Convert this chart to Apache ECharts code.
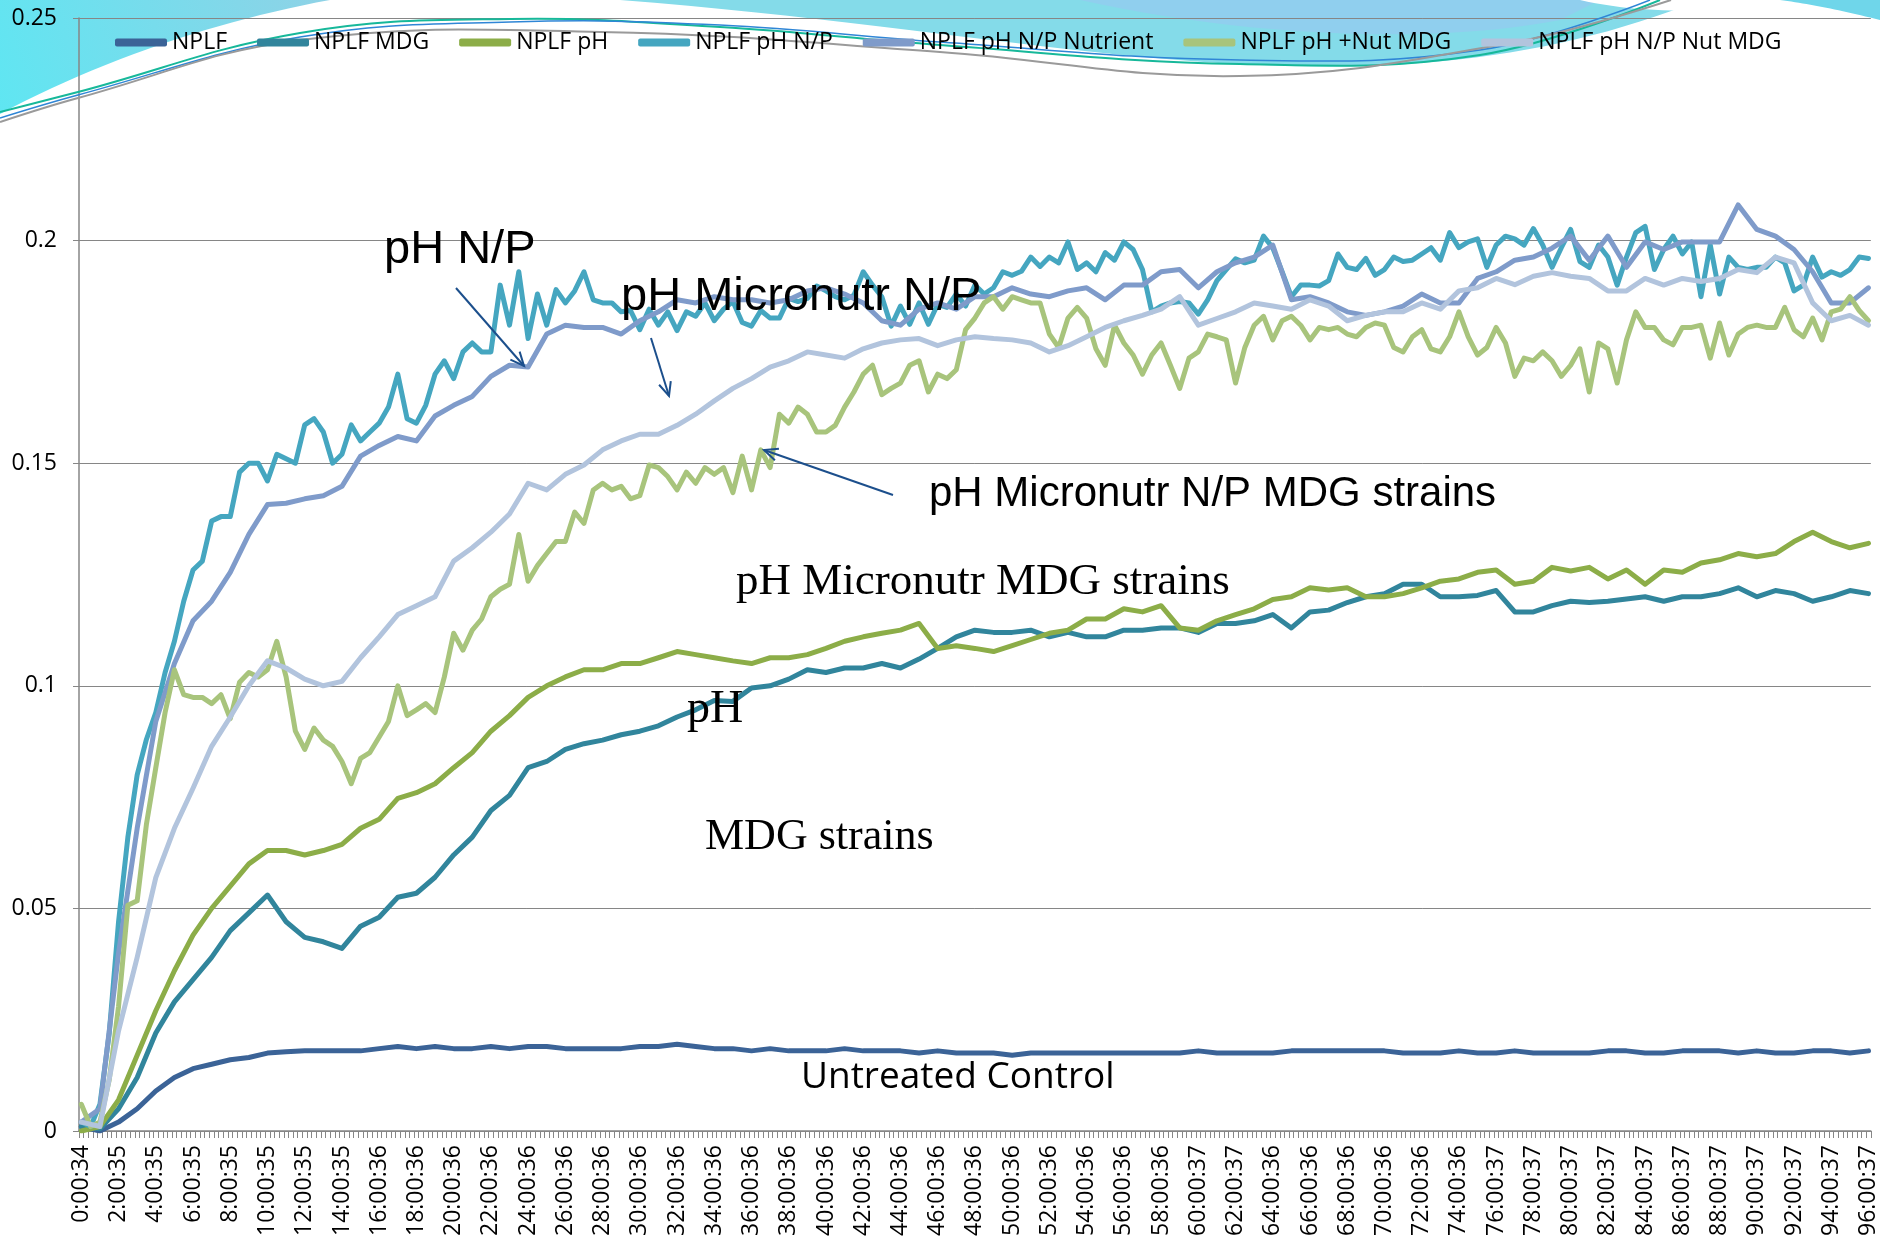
<!DOCTYPE html>
<html>
<head>
<meta charset="utf-8">
<title>NPLF growth curves</title>
<script src="https://cdn.jsdelivr.net/npm/echarts@6/dist/echarts.min.js"></script>
<style>
  html, body { margin: 0; padding: 0; background: #fff; }
  #chart { width: 1880px; height: 1253px; }
</style>
</head>
<body>
<div id="chart"></div>
<script>
// labelled ticks, one every 2 hours
const tickLabels = [
  '0:00:34', '2:00:35', '4:00:35', '6:00:35', '8:00:35', '10:00:35', '12:00:35', '14:00:35',
  '16:00:36', '18:00:36', '20:00:36', '22:00:36', '24:00:36', '26:00:36', '28:00:36', '30:00:36',
  '32:00:36', '34:00:36', '36:00:36', '38:00:36', '40:00:36', '42:00:36', '44:00:36', '46:00:36',
  '48:00:36', '50:00:36', '52:00:36', '54:00:36', '56:00:36', '58:00:36', '60:00:37', '62:00:37',
  '64:00:36', '66:00:36', '68:00:36', '70:00:36', '72:00:36', '74:00:36', '76:00:37', '78:00:37',
  '80:00:37', '82:00:37', '84:00:37', '86:00:37', '88:00:37', '90:00:37', '92:00:37', '94:00:37',
  '96:00:37'
];
const readsPerHour = 4; // plate read every 15 min

// hourly readings, hour 0 .. 96
const nplf = [
  0.001, 0.000, 0.002, 0.005, 0.009, 0.012, 0.014, 0.015, 0.016, 0.0165, 0.0175, 0.0178, 0.018, 0.018, 0.018, 0.018, 0.0185,
  0.019, 0.0185, 0.019, 0.0185, 0.0185, 0.019, 0.0185, 0.019, 0.019, 0.0185, 0.0185, 0.0185, 0.0185, 0.019, 0.019, 0.0195,
  0.019, 0.0185, 0.0185, 0.018, 0.0185, 0.018, 0.018, 0.018, 0.0185, 0.018, 0.018, 0.018, 0.0175, 0.018, 0.0175, 0.0175,
  0.0175, 0.017, 0.0175, 0.0175, 0.0175, 0.0175, 0.0175, 0.0175, 0.0175, 0.0175, 0.0175, 0.018, 0.0175, 0.0175, 0.0175, 0.0175,
  0.018, 0.018, 0.018, 0.018, 0.018, 0.018, 0.0175, 0.0175, 0.0175, 0.018, 0.0175, 0.0175, 0.018, 0.0175, 0.0175, 0.0175,
  0.0175, 0.018, 0.018, 0.0175, 0.0175, 0.018, 0.018, 0.018, 0.0175, 0.018, 0.0175, 0.0175, 0.018, 0.018, 0.0175, 0.018
];
const nplfMdg = [
  0.001, 0.0005, 0.005, 0.012, 0.022, 0.029, 0.034, 0.039, 0.045, 0.049, 0.053, 0.047, 0.0435, 0.0425, 0.041, 0.046, 0.048,
  0.0525, 0.0534, 0.057, 0.062, 0.066, 0.072, 0.0754, 0.0816, 0.083, 0.0857, 0.087, 0.0878, 0.089, 0.0898, 0.091, 0.093,
  0.0946, 0.0967, 0.0965, 0.0995, 0.100, 0.1015, 0.1036, 0.103, 0.104, 0.104, 0.105, 0.104, 0.106, 0.1084, 0.111, 0.1125,
  0.112, 0.112, 0.1125, 0.111, 0.112, 0.111, 0.111, 0.1125, 0.1125, 0.113, 0.113, 0.112, 0.114, 0.114, 0.1146, 0.116,
  0.113, 0.1166, 0.117, 0.1187, 0.120, 0.1207, 0.1228, 0.1228, 0.120, 0.120, 0.1203, 0.1214, 0.1166, 0.1166, 0.118, 0.119,
  0.1187, 0.119, 0.1195, 0.120, 0.119, 0.120, 0.120, 0.1207, 0.122, 0.120, 0.1214, 0.1207, 0.119, 0.120, 0.1214, 0.1207
];
const nplfPh = [
  0.000, 0.001, 0.007, 0.017, 0.027, 0.036, 0.044, 0.050, 0.055, 0.060, 0.063, 0.063, 0.062, 0.063, 0.0644, 0.068, 0.070,
  0.0747, 0.076, 0.078, 0.0816, 0.085, 0.0898, 0.0933, 0.0974, 0.100, 0.102, 0.1036, 0.1036, 0.105, 0.105, 0.1063, 0.1077,
  0.107, 0.1063, 0.1056, 0.105, 0.1063, 0.1063, 0.107, 0.1084, 0.110, 0.111, 0.1118, 0.1125, 0.114, 0.1084, 0.109, 0.1084,
  0.1077, 0.109, 0.1104, 0.1118, 0.1125, 0.115, 0.115, 0.1173, 0.1166, 0.118, 0.113, 0.1125, 0.1146, 0.116, 0.1173, 0.1194,
  0.120, 0.122, 0.1215, 0.122, 0.120, 0.120, 0.1207, 0.122, 0.1235, 0.124, 0.1255, 0.126, 0.1228, 0.1235, 0.1266, 0.1258,
  0.1266, 0.124, 0.126, 0.1228, 0.126, 0.1255, 0.1276, 0.1283, 0.1297, 0.129, 0.1297, 0.1324, 0.1345, 0.1324, 0.131, 0.132
];
// half-hour readings, hour 0 .. 96 (8 hours per row)
const nplfPhNp = [
  0.002, 0.001, 0.006, 0.022, 0.047, 0.066, 0.080, 0.088, 0.094, 0.103, 0.110, 0.119, 0.126, 0.128, 0.137, 0.138,
  0.138, 0.148, 0.150, 0.150, 0.146, 0.152, 0.151, 0.150, 0.1586, 0.160, 0.157, 0.150, 0.152, 0.1586, 0.155, 0.157,
  0.159, 0.1626, 0.170, 0.160, 0.159, 0.163, 0.170, 0.173, 0.169, 0.175, 0.177, 0.175, 0.175, 0.190, 0.181, 0.193,
  0.178, 0.188, 0.181, 0.189, 0.186, 0.1887, 0.193, 0.1867, 0.186, 0.186, 0.184, 0.1843, 0.180, 0.1846, 0.181, 0.184,
  0.1798, 0.184, 0.183, 0.186, 0.182, 0.1846, 0.1863, 0.1816, 0.1808, 0.1843, 0.1826, 0.1826, 0.187, 0.1863, 0.187, 0.1898,
  0.1887, 0.1874, 0.1867, 0.1877, 0.193, 0.190, 0.1874, 0.1808, 0.1853, 0.1812, 0.186, 0.1812, 0.1857, 0.185, 0.188, 0.1853,
  0.190, 0.188, 0.1894, 0.193, 0.1922, 0.1931, 0.1963, 0.1942, 0.1963, 0.195, 0.1997, 0.1935, 0.195, 0.193, 0.1973, 0.1956,
  0.1997, 0.198, 0.1935, 0.184, 0.1853, 0.186, 0.1863, 0.186, 0.1835, 0.1867, 0.191, 0.1935, 0.1959, 0.195, 0.1956, 0.201,
  0.1984, 0.193, 0.1874, 0.190, 0.190, 0.1898, 0.191, 0.197, 0.194, 0.1935, 0.196, 0.1922, 0.1935, 0.1963, 0.1953, 0.1956,
  0.197, 0.1984, 0.1956, 0.2018, 0.1984, 0.1997, 0.2004, 0.194, 0.199, 0.201, 0.2004, 0.199, 0.2027, 0.199, 0.194, 0.1984,
  0.2025, 0.1953, 0.194, 0.199, 0.1963, 0.190, 0.1963, 0.2018, 0.2032, 0.1935, 0.198, 0.201, 0.197, 0.1997, 0.1874, 0.199,
  0.188, 0.1963, 0.194, 0.1935, 0.194, 0.194, 0.1963, 0.195, 0.1887, 0.190, 0.1963, 0.1918, 0.193, 0.1922, 0.1935, 0.1963,
  0.196
];
// hourly readings
const nplfPhNpNut = [
  0.002, 0.005, 0.040, 0.068, 0.092, 0.105, 0.1146, 0.119, 0.1255, 0.134, 0.1407, 0.141, 0.142, 0.1427, 0.1448, 0.1516, 0.154,
  0.156, 0.155, 0.1606, 0.163, 0.165, 0.1695, 0.172, 0.1716, 0.179, 0.181, 0.1805, 0.1805, 0.179, 0.182, 0.184, 0.1867,
  0.186, 0.1874, 0.1867, 0.1867, 0.186, 0.1867, 0.1887, 0.1894, 0.188, 0.186, 0.182, 0.181, 0.1846, 0.186, 0.1846, 0.1874,
  0.1874, 0.1894, 0.188, 0.1874, 0.1887, 0.1894, 0.1867, 0.190, 0.190, 0.193, 0.1935, 0.1894, 0.193, 0.195, 0.1963, 0.199,
  0.1867, 0.1874, 0.186, 0.184, 0.1832, 0.184, 0.1853, 0.188, 0.186, 0.186, 0.1915, 0.193, 0.1956, 0.1963, 0.1983, 0.201,
  0.1956, 0.201, 0.194, 0.1997, 0.198, 0.1997, 0.1997, 0.1997, 0.208, 0.2025, 0.201, 0.198, 0.193, 0.186, 0.186, 0.1894
];
// half-hour readings
const nplfPhNutMdg = [
  0.006, 0.001, 0.002, 0.0115, 0.028, 0.0507, 0.0517, 0.069, 0.0816, 0.094, 0.1036, 0.098, 0.0974, 0.0974, 0.096, 0.098,
  0.0926, 0.1008, 0.103, 0.102, 0.1036, 0.110, 0.102, 0.0898, 0.0857, 0.0905, 0.0878, 0.0864, 0.083, 0.078, 0.0837, 0.085,
  0.0885, 0.092, 0.100, 0.0933, 0.0946, 0.096, 0.094, 0.102, 0.1118, 0.108, 0.1125, 0.115, 0.120, 0.1217, 0.1228, 0.134,
  0.1235, 0.127, 0.1297, 0.1324, 0.1324, 0.139, 0.1365, 0.144, 0.1455, 0.144, 0.1448, 0.142, 0.1427, 0.1496, 0.149, 0.147,
  0.144, 0.148, 0.1455, 0.149, 0.1475, 0.149, 0.1434, 0.1516, 0.144, 0.153, 0.149, 0.161, 0.159, 0.1626, 0.161, 0.157,
  0.157, 0.1585, 0.1626, 0.166, 0.170, 0.172, 0.1654, 0.1668, 0.168, 0.172, 0.173, 0.166, 0.170, 0.169, 0.171, 0.180,
  0.1826, 0.186, 0.1874, 0.1846, 0.1874, 0.1867, 0.186, 0.186, 0.179, 0.176, 0.1826, 0.185, 0.1826, 0.1757, 0.172, 0.181,
  0.177, 0.1743, 0.170, 0.1743, 0.177, 0.172, 0.1668, 0.1736, 0.175, 0.179, 0.1784, 0.1777, 0.168, 0.176, 0.181, 0.183,
  0.1777, 0.182, 0.183, 0.181, 0.1777, 0.1805, 0.180, 0.1805, 0.179, 0.1784, 0.1805, 0.1815, 0.181, 0.176, 0.175, 0.1784,
  0.180, 0.1757, 0.175, 0.1784, 0.184, 0.1784, 0.1743, 0.176, 0.1805, 0.177, 0.1695, 0.1736, 0.173, 0.175, 0.173, 0.1695,
  0.172, 0.1757, 0.166, 0.177, 0.1757, 0.168, 0.1777, 0.184, 0.1805, 0.1805, 0.1777, 0.1766, 0.1805, 0.1805, 0.181, 0.1736,
  0.1815, 0.1743, 0.179, 0.1805, 0.181, 0.1805, 0.1805, 0.185, 0.180, 0.1784, 0.1826, 0.1777, 0.184, 0.1846, 0.1874, 0.1843,
  0.182
];
// hourly readings
const nplfPhNpNutMdg = [
  0.002, 0.001, 0.0225, 0.039, 0.0569, 0.068, 0.077, 0.0864, 0.093, 0.100, 0.1056, 0.104, 0.1015, 0.100, 0.101, 0.1063, 0.111,
  0.116, 0.118, 0.120, 0.128, 0.131, 0.1345, 0.1386, 0.1455, 0.144, 0.1475, 0.1496, 0.153, 0.155, 0.1565, 0.1565, 0.1585,
  0.161, 0.164, 0.1668, 0.169, 0.1716, 0.173, 0.175, 0.1743, 0.1736, 0.1757, 0.177, 0.1777, 0.178, 0.1764, 0.1777, 0.1784,
  0.178, 0.1777, 0.177, 0.175, 0.1764, 0.1784, 0.1805, 0.182, 0.1832, 0.1846, 0.1874, 0.181, 0.1825, 0.184, 0.186, 0.1853,
  0.1846, 0.1867, 0.1853, 0.182, 0.1832, 0.184, 0.184, 0.186, 0.1846, 0.1887, 0.1894, 0.1915, 0.1901, 0.192, 0.1928, 0.192,
  0.1915, 0.1887, 0.1887, 0.1915, 0.190, 0.1915, 0.1908, 0.1915, 0.1935, 0.1928, 0.1963, 0.195, 0.186, 0.182, 0.1832, 0.181
];

const seriesNames = ['NPLF', 'NPLF MDG', 'NPLF pH', 'NPLF pH N/P', 'NPLF pH N/P Nutrient', 'NPLF pH +Nut MDG', 'NPLF pH N/P Nut MDG'];
const seriesValues = [nplf, nplfMdg, nplfPh, nplfPhNp, nplfPhNpNut, nplfPhNutMdg, nplfPhNpNutMdg];
const seriesColors = ['#3b6397', '#31859c', '#8cad48', '#45a6c0', '#7f9bca', '#a8c47c', '#b2c4dd'];

// one category per 15 min read
const categories = [];
for (let h = 0; h <= 96; h++) {
  const sec = tickLabels[Math.floor(h / 2)].split(':')[2];
  for (let q = 0; q < readsPerHour; q++) {
    if (h === 96 && q > 0) break;
    categories.push(h + ':' + String(q * 15).padStart(2, '0') + ':' + sec);
  }
}

// place readings on the 15 min category axis (hourly or half-hourly arrays)
function toReads(arr) {
  const step = (categories.length - 1) / (arr.length - 1);
  if (step !== 4 && step !== 2) throw new Error('series length ' + arr.length);
  const out = new Array(categories.length).fill(null);
  arr.forEach((v, i) => { out[i * step] = v; });
  return out;
}

const series = seriesNames.map((name, i) => ({
  name: name,
  type: 'line',
  data: toReads(seriesValues[i]),
  connectNulls: true,
  showSymbol: false,
  symbol: 'none',
  color: seriesColors[i],
  lineStyle: { width: 5, color: seriesColors[i], cap: 'round', join: 'round' },
  emphasis: { disabled: true },
  z: 2 + i
}));

// arrows for the annotations
const arrowColor = '#1c4f8c';
function arrow(x1, y1, x2, y2) {
  const a = Math.atan2(y2 - y1, x2 - x1);
  const L = 15, w = 0.42;
  return [
    { type: 'line', z: 50, shape: { x1: x1, y1: y1, x2: x2, y2: y2 }, style: { stroke: arrowColor, lineWidth: 2 } },
    { type: 'polyline', z: 50, shape: { points: [
      [x2 - L * Math.cos(a - w), y2 - L * Math.sin(a - w)], [x2, y2],
      [x2 - L * Math.cos(a + w), y2 - L * Math.sin(a + w)]] },
      style: { stroke: arrowColor, lineWidth: 2, fill: null } }
  ];
}
function label(text, x, y, size, family) {
  return { type: 'text', z: 50, style: { text: text, x: x, y: y, fill: '#000', fontSize: size, fontFamily: family, verticalAlign: 'middle', align: 'left' } };
}
function grad(c1, c2) {
  return { type: 'linear', x: 0, y: 1, x2: 1, y2: 0, colorStops: [{ offset: 0, color: c1 }, { offset: 1, color: c2 }] };
}
// sample a cubic curve for the decoration outlines
function cubic(p0, p1, p2, p3) {
  const pts = [];
  for (let i = 0; i <= 24; i++) {
    const t = i / 24, u = 1 - t;
    pts.push([
      u * u * u * p0[0] + 3 * u * u * t * p1[0] + 3 * u * t * t * p2[0] + t * t * t * p3[0],
      u * u * u * p0[1] + 3 * u * u * t * p1[1] + 3 * u * t * t * p2[1] + t * t * t * p3[1]
    ]);
  }
  return pts;
}
function shape(points, fill) {
  return { type: 'polygon', z: 0, silent: true, shape: { points: points }, style: { fill: fill } };
}
function curve(points, color, width) {
  return { type: 'polyline', z: 1, silent: true, shape: { points: points, smooth: 0.4 }, style: { stroke: color, lineWidth: width, fill: null } };
}

// slide theme swooshes at the top
const deco = [
  shape([[0, 0]].concat(cubic([330, 0], [220, 20], [100, 60], [0, 114])), grad('#5fe6f2', '#8fd2e6')),
  shape(cubic([620, 0], [900, 22], [1100, 62], [1290, 66]).concat(cubic([1290, 66], [1450, 70], [1580, 48], [1700, 0])), '#84dbe9'),
  shape(cubic([1080, 0], [1250, 38], [1440, 44], [1560, 20]).concat([[1600, 0]]), '#90cfee'),
  shape(cubic([1580, 0], [1640, 14], [1720, 14], [1780, 0]), '#ffffff'),
  shape([[1780, 0], [1880, 0], [1880, 20]].concat(cubic([1880, 20], [1840, 10], [1810, 4], [1780, 0])), '#6fd6ea'),
  curve([[0, 112], [78, 92], [300, 33], [510, 19], [720, 27], [940, 45], [1240, 64], [1480, 55], [1660, 0]], '#17b89a', 2),
  curve([[0, 118], [78, 95], [300, 37], [510, 22], [720, 25], [940, 42], [1240, 60], [1480, 50], [1650, 0]], '#2f86d6', 1.5),
  curve([[0, 122], [78, 98], [300, 40], [600, 32], [940, 52], [1240, 76], [1510, 43], [1671, 0]], '#9a9a9a', 2)
];

const notes = [
  label('pH N/P', 384, 250, 47, 'Liberation Sans'),
  label('pH Micronutr N/P', 621, 297, 47, 'Liberation Sans'),
  label('pH Micronutr N/P MDG strains', 929, 494, 42, 'Liberation Sans'),
  label('pH Micronutr MDG strains', 736, 582, 45, 'Liberation Serif'),
  label('pH', 687, 710, 46, 'Liberation Serif'),
  label('MDG strains', 705, 837, 44, 'Liberation Serif'),
  label('Untreated Control', 801, 1077, 37, 'Open Sans')
].concat(arrow(456, 288, 524, 366), arrow(651, 338, 669, 396), arrow(893, 495, 764, 450));

const chart = echarts.init(document.getElementById('chart'));
chart.setOption({
  backgroundColor: '#ffffff',
  animation: false,
  textStyle: { fontFamily: 'Open Sans' },
  legend: {
    data: seriesNames,
    left: 110,
    top: 26,
    icon: 'roundRect',
    itemWidth: 52,
    itemHeight: 8,
    itemGap: 30,
    textStyle: { fontFamily: 'Open Sans', fontSize: 23, color: '#000' }
  },
  grid: { left: 79, right: 7, top: 18, bottom: 122, containLabel: false },
  xAxis: {
    type: 'category',
    data: categories,
    boundaryGap: true,
    axisLine: { lineStyle: { color: '#868686', width: 1.5 } },
    axisTick: { show: true, interval: 0, length: 7, lineStyle: { color: '#868686' } },
    axisLabel: { interval: readsPerHour * 2 - 1, rotate: 90, margin: 14, fontSize: 23, color: '#000', fontFamily: 'Open Sans' },
    splitLine: { show: false }
  },
  yAxis: {
    type: 'value',
    min: 0,
    max: 0.25,
    interval: 0.05,
    axisLine: { show: true, lineStyle: { color: '#868686', width: 1.5 } },
    axisTick: { show: true, length: 6, lineStyle: { color: '#868686' } },
    axisLabel: { margin: 22, fontSize: 23, color: '#000', fontFamily: 'Open Sans' },
    splitLine: { lineStyle: { color: '#868686', width: 1 } }
  },
  series: series,
  graphic: deco.concat(notes)
});
</script>
</body>
</html>
